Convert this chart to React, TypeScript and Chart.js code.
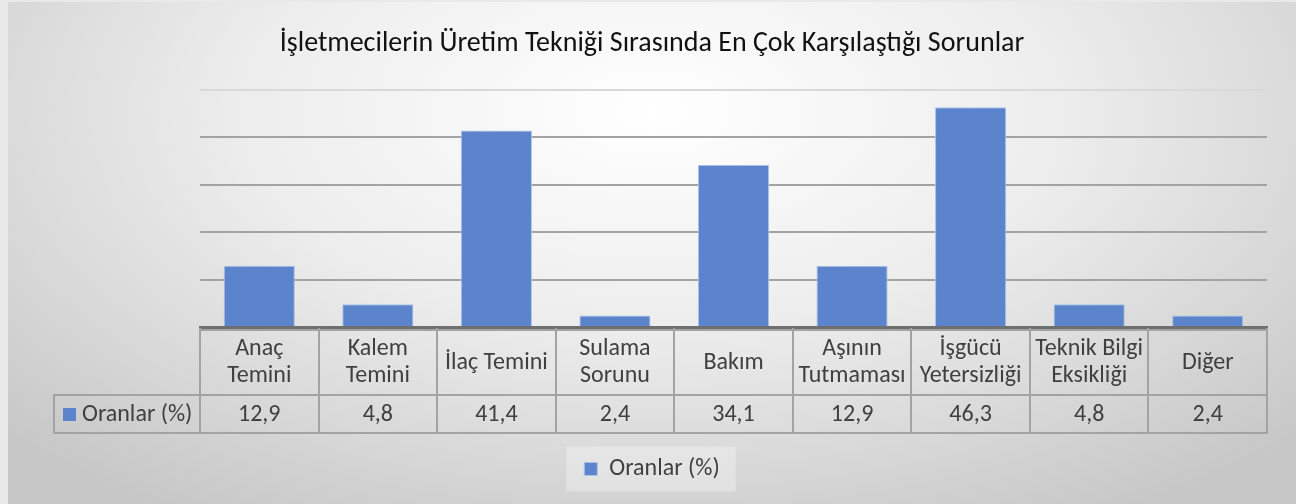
import React, { useEffect, useRef } from "react";
import { Chart, registerables } from "chart.js";

Chart.register(...registerables);

const title = "İşletmecilerin Üretim Tekniği Sırasında En Çok Karşılaştığı Sorunlar";
const seriesName = "Oranlar (%)";
const categories: string[][] = [
  ["Anaç", "Temini"],
  ["Kalem", "Temini"],
  ["İlaç Temini"],
  ["Sulama", "Sorunu"],
  ["Bakım"],
  ["Aşının", "Tutmaması"],
  ["İşgücü", "Yetersizliği"],
  ["Teknik Bilgi", "Eksikliği"],
  ["Diğer"],
];
const values: number[] = [12.9, 4.8, 41.4, 2.4, 34.1, 12.9, 46.3, 4.8, 2.4];
const yMin = 0;
const yMax = 50;
const yStep = 10;

const FONT = "Carlito, Calibri, Lato, sans-serif";
const TEXT_COLOR = "#404040";
const BAR_FILL = "#5b84cc";
const BAR_BORDER = "#a9c0e8";
const TABLE_LINE = "#a3a3a3";
const HEADER_H = 67;
const VALUE_H = 38;
const LEGEND_CELL_LEFT = 46;

const dataTablePlugin = {
  id: "dataTable",
  afterDraw(chart: any) {
    const ctx = chart.ctx;
    const x = chart.scales.x;
    const area = chart.chartArea;
    const n = categories.length;
    const colW = (x.right - x.left) / n;
    const top = area.bottom + 1;
    const mid = top + HEADER_H;
    const bottom = mid + VALUE_H;
    ctx.save();
    ctx.strokeStyle = TABLE_LINE;
    ctx.lineWidth = 2;
    ctx.beginPath();
    ctx.moveTo(x.left, top + 2);
    ctx.lineTo(x.right, top + 2);
    ctx.moveTo(LEGEND_CELL_LEFT, mid);
    ctx.lineTo(x.right, mid);
    ctx.moveTo(LEGEND_CELL_LEFT, bottom);
    ctx.lineTo(x.right, bottom);
    for (let i = 0; i <= n; i++) {
      const px = Math.round(x.left + i * colW);
      ctx.moveTo(px, top);
      ctx.lineTo(px, bottom + 1);
    }
    ctx.moveTo(LEGEND_CELL_LEFT, mid - 1);
    ctx.lineTo(LEGEND_CELL_LEFT, bottom + 1);
    ctx.stroke();

    ctx.fillStyle = TEXT_COLOR;
    ctx.font = `24px ${FONT}`;
    ctx.textAlign = "center";
    ctx.textBaseline = "middle";
    const lineH = 27;
    categories.forEach((lines, i) => {
      const cx = x.getPixelForValue(i);
      const cy = top + HEADER_H / 2 + 1;
      const start = cy - ((lines.length - 1) * lineH) / 2;
      lines.forEach((ln, j) => ctx.fillText(ln, cx, start + j * lineH));
      ctx.fillText(values[i].toFixed(1).replace(".", ","), cx, mid + VALUE_H / 2 + 1);
    });
    const ky = mid + VALUE_H / 2;
    ctx.fillStyle = BAR_FILL;
    ctx.fillRect(LEGEND_CELL_LEFT + 9, ky - 6, 13, 13);
    ctx.fillStyle = TEXT_COLOR;
    ctx.textAlign = "left";
    ctx.fillText(seriesName, LEGEND_CELL_LEFT + 28, ky + 1);
    ctx.restore();
  },
};

const legendBgPlugin = {
  id: "legendBg",
  beforeDraw(chart: any) {
    const lg = chart.legend;
    if (!lg || !lg.legendHitBoxes || !lg.legendHitBoxes.length) return;
    const hb = lg.legendHitBoxes[0];
    const cy = hb.top + hb.height / 2;
    const ctx = chart.ctx;
    ctx.save();
    ctx.fillStyle = "rgba(255,255,255,0.3)";
    ctx.fillRect(hb.left - 18, cy - 22.5, hb.width + 34, 45);
    ctx.restore();
  },
};

export default function App() {
  const ref = useRef<HTMLCanvasElement | null>(null);
  useEffect(() => {
    if (!ref.current) return;
    const chart = new Chart(ref.current, {
      type: "bar",
      data: {
        labels: categories,
        datasets: [
          {
            label: seriesName,
            data: values,
            backgroundColor: BAR_FILL,
            borderColor: BAR_BORDER,
            borderWidth: 1,
            barPercentage: 0.6,
            categoryPercentage: 1,
          },
        ],
      },
      options: {
        animation: false,
        responsive: true,
        maintainAspectRatio: false,
        layout: { padding: { left: 0, right: 0, top: 0, bottom: 13 } },
        plugins: {
          title: {
            display: true,
            text: title,
            color: "#111111",
            font: { family: FONT, size: 28, weight: "normal" },
            padding: { top: 25, bottom: 29 },
          },
          legend: {
            display: true,
            position: "bottom",
            labels: {
              color: TEXT_COLOR,
              font: { family: FONT, size: 24 },
              boxWidth: 13,
              boxHeight: 13,
              padding: 10,
            },
          },
          tooltip: { enabled: false },
        },
        scales: {
          x: {
            grid: { display: false },
            ticks: { display: false },
            border: { display: true, color: "#6f6f6f", width: 3 },
            afterFit: (s: any) => {
              s.height = 120;
            },
          },
          y: {
            min: yMin,
            max: yMax,
            ticks: { display: false, stepSize: yStep },
            border: { display: false },
            grid: {
              color: (c: any) => (c.tick && c.tick.value === yMax ? "#d9d9d9" : "#a3a3a3"),
              lineWidth: 2,
              drawTicks: false,
            },
            afterFit: (s: any) => {
              s.width = 192;
            },
          },
          yRight: {
            type: "linear",
            position: "right",
            display: true,
            grid: { display: false },
            ticks: { display: false },
            border: { display: false },
            afterFit: (s: any) => {
              s.width = 29;
            },
          },
        },
      },
      plugins: [dataTablePlugin, legendBgPlugin],
    });
    return () => chart.destroy();
  }, []);

  return (
    <div style={{ position: "absolute", left: 0, top: 0, width: 1296, height: 504, background: "#e9e9e9" }}>
      <div
        style={{
          position: "absolute",
          left: 8,
          top: 2,
          width: 1288,
          height: 502,
          background:
            "radial-gradient(ellipse 70% 95% at 50% 22%, #ffffff 0%, #ededed 45%, #c6c6c6 100%)",
        }}
      >
        <canvas ref={ref} width={1288} height={502} />
      </div>
    </div>
  );
}
